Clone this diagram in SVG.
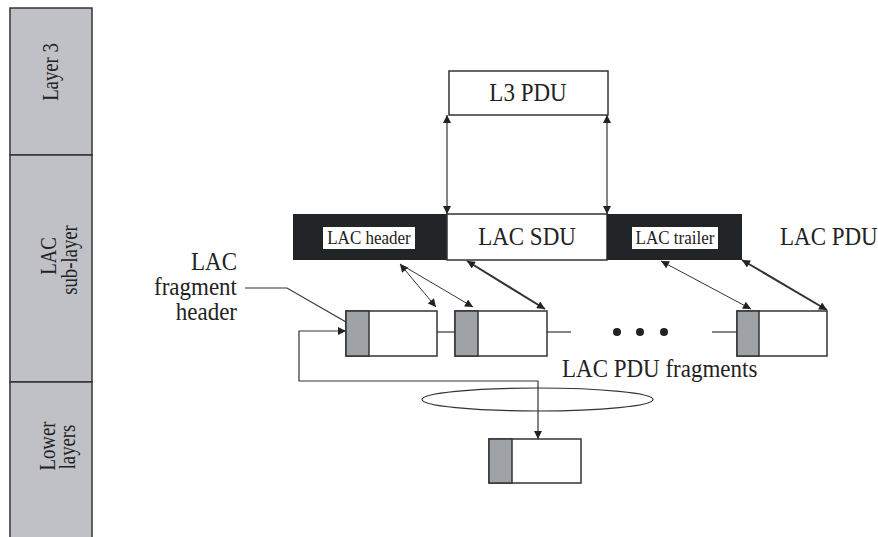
<svg xmlns="http://www.w3.org/2000/svg" width="878" height="537" viewBox="0 0 878 537" font-family="'Liberation Serif', 'DejaVu Serif', serif">
<defs>
<style>
text{font-family:"Liberation Serif","DejaVu Serif",serif;fill:#222;}
.big{font-size:23px;}
.sm{font-size:17px;}
.sd{font-size:24px;}
.side{fill:#bfc1c6;stroke:#333;stroke-width:1.5;}
.box{fill:#fff;stroke:#333;stroke-width:1.5;}
.hdr{fill:#9fa3a8;stroke:#333;stroke-width:1.5;}
.blk{fill:#222528;}
.ln{fill:none;stroke:#333;stroke-width:1.2;}
.thin{fill:none;stroke:#333;stroke-width:1;}
.thick{fill:none;stroke:#333;stroke-width:2;}
</style>
<marker id="ah" viewBox="0 0 10 10" refX="10" refY="5" markerWidth="16" markerHeight="8" markerUnits="userSpaceOnUse" orient="auto-start-reverse">
<path d="M0,0 L10,5 L0,10 z" fill="#222"/>
</marker>
</defs>
<rect width="878" height="537" fill="#fff"/>

<g id="sidebar">
<rect class="side" x="10" y="8" width="82" height="147"/>
<rect class="side" x="10" y="155" width="82" height="227"/>
<rect class="side" x="10" y="382" width="82" height="160"/>
<text class="sd" transform="translate(58,72) rotate(-90) scale(0.78,1)" text-anchor="middle">Layer 3</text>
<text class="sd" transform="translate(56,256) rotate(-90) scale(0.78,1)" text-anchor="middle">LAC</text>
<text class="sd" transform="translate(77,260) rotate(-90) scale(0.78,1)" text-anchor="middle">sub-layer</text>
<text class="sd" transform="translate(55,446) rotate(-90) scale(0.78,1)" text-anchor="middle">Lower</text>
<text class="sd" transform="translate(75,447) rotate(-90) scale(0.78,1)" text-anchor="middle">layers</text>
</g>

<g id="l3pdu">
<rect class="box" x="449" y="71" width="159" height="44"/>
<text class="big" transform="translate(528,101) scale(1,1.09)" text-anchor="middle">L3 PDU</text>
</g>

<g id="lacpdu">
<rect class="blk" x="293" y="214" width="154" height="46"/>
<rect class="box" x="447" y="214" width="160" height="46"/>
<rect class="blk" x="607" y="214" width="135" height="46"/>
<rect x="323" y="227" width="92" height="22" fill="#fff"/>
<rect x="632" y="227" width="86" height="22" fill="#fff"/>
<text class="sm" transform="translate(369,244) scale(1,1.05)" text-anchor="middle">LAC header</text>
<text class="big" transform="translate(527,245) scale(1,1.09)" text-anchor="middle">LAC SDU</text>
<text class="sm" transform="translate(675,244) scale(1,1.05)" text-anchor="middle">LAC trailer</text>
<text class="big" transform="translate(780,245) scale(1,1.09)">LAC PDU</text>
</g>

<g id="frag1">
<rect class="box" x="346" y="311" width="91" height="45"/>
<rect class="hdr" x="346" y="311" width="23" height="45"/>
</g>
<g id="frag2">
<rect class="box" x="455" y="311" width="92" height="45"/>
<rect class="hdr" x="455" y="311" width="23" height="45"/>
</g>
<g id="frag3">
<rect class="box" x="737" y="311" width="90" height="45"/>
<rect class="hdr" x="737" y="311" width="22" height="45"/>
</g>
<g id="fragments-label">
<text class="big" transform="translate(562,377) scale(1,1.09)">LAC PDU fragments</text>
<circle cx="617" cy="332" r="4" fill="#222"/>
<circle cx="640" cy="332" r="4" fill="#222"/>
<circle cx="664" cy="332" r="4" fill="#222"/>
</g>

<g id="frag-header-label">
<text class="big" transform="translate(237,270) scale(1,1.09)" text-anchor="end">LAC</text>
<text class="big" transform="translate(237,295) scale(1,1.09)" text-anchor="end">fragment</text>
<text class="big" transform="translate(237,320) scale(1,1.09)" text-anchor="end">header</text>
</g>

<g id="channel">
<ellipse class="ln" cx="537.5" cy="399.5" rx="115.5" ry="11.5"/>
</g>

<g id="lowerfrag">
<rect class="box" x="489" y="439" width="92" height="44"/>
<rect class="hdr" x="489" y="439" width="23" height="44"/>
</g>

<g id="connectors">
<line class="ln" x1="447" y1="115" x2="447" y2="214" marker-start="url(#ah)" marker-end="url(#ah)"/>
<line class="ln" x1="607" y1="115" x2="607" y2="214" marker-start="url(#ah)" marker-end="url(#ah)"/>
<line class="thin" x1="400" y1="264" x2="436" y2="307" marker-start="url(#ah)" marker-end="url(#ah)"/>
<line class="thin" x1="400" y1="264" x2="473" y2="307" marker-end="url(#ah)"/>
<line class="thick" x1="467" y1="261" x2="545" y2="309" marker-start="url(#ah)" marker-end="url(#ah)"/>
<line class="thin" x1="661" y1="261" x2="751" y2="309" marker-start="url(#ah)" marker-end="url(#ah)"/>
<line class="thick" x1="742" y1="260" x2="827" y2="310" marker-start="url(#ah)" marker-end="url(#ah)"/>
<line class="ln" x1="437" y1="332" x2="455" y2="332"/>
<line class="ln" x1="547" y1="332" x2="571" y2="332"/>
<line class="ln" x1="712" y1="332" x2="737" y2="332"/>
<polyline class="ln" points="245,288 287,288 346,322"/>
<polyline class="ln" points="538,439 538,381 299,381 299,331 346,331" marker-start="url(#ah)" marker-end="url(#ah)"/>
</g>
</svg>
